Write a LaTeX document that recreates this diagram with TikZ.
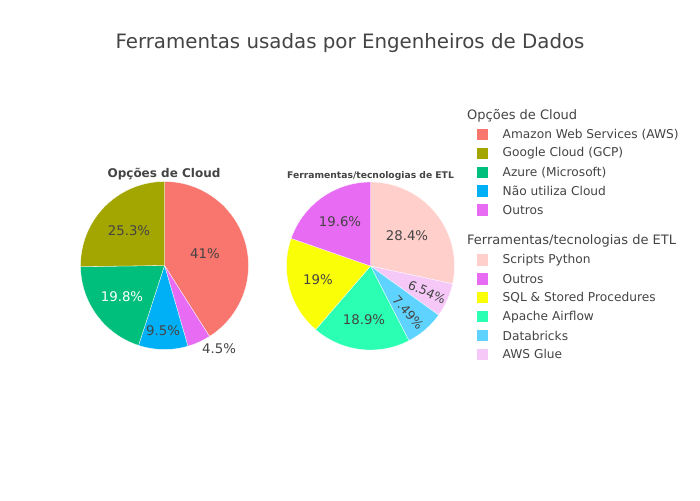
\documentclass[tikz,border=0pt]{standalone}
\usepackage{fontspec}
\setmainfont{DejaVu Sans}
\definecolor{txt}{HTML}{444444}
\definecolor{caws}{HTML}{F8766D}
\definecolor{cgcp}{HTML}{A3A500}
\definecolor{caz}{HTML}{00BF7D}
\definecolor{cnao}{HTML}{00B0F6}
\definecolor{cout}{HTML}{E76BF3}
\definecolor{cpy}{HTML}{FFCFCB}
\definecolor{csql}{HTML}{FAFF07}
\definecolor{cair}{HTML}{2BFFB3}
\definecolor{cdb}{HTML}{5FD3FF}
\definecolor{cglue}{HTML}{F5C8F8}
\newcommand\myslice[4]{\fill[#4,draw=white,line width=0.3pt] (#1) -- ++({-90+3.6*#2}:84) arc[start angle={-90+3.6*#2}, end angle={-90+3.6*#3}, radius=84] -- cycle;}
\tikzset{
  lbl/.style={text=txt,font=\fontsize{13.3}{15}\selectfont,inner sep=0pt},
  leg/.style={text=txt,font=\fontsize{12.2}{14}\selectfont,anchor=west,inner sep=0pt},
  leghead/.style={text=txt,font=\fontsize{13}{15}\selectfont,anchor=west,inner sep=0pt},
  sw/.style={minimum width=11.5pt,minimum height=11.5pt,inner sep=0pt,anchor=west}
}
\begin{document}
\begin{tikzpicture}[x=1pt,y=-1pt]
\useasboundingbox[fill=white] (0,0) rectangle (700,500);
\node[text=txt,font=\fontsize{19.8}{22}\selectfont,anchor=base,inner sep=0pt] (title) at (350,49) {Ferramentas usadas por Engenheiros de Dados};
% left pie
\coordinate (L) at (164.5,265.5);
\myslice{L}{0}{41}{caws}
\myslice{L}{41}{45.5}{cout}
\myslice{L}{45.5}{55}{cnao}
\myslice{L}{55}{74.8}{caz}
\myslice{L}{74.8}{100}{cgcp}
\node[text=txt,font=\bfseries\fontsize{12}{14}\selectfont] (lt) at (164,174) {Opções de Cloud};
\node[lbl] (l1) at (205,254) {41\%};
\node[lbl] (l2) at (129,231) {25.3\%};
\node[lbl,text=white] (l3) at (122,297) {19.8\%};
\node[lbl] (l4) at (163,331) {9.5\%};
\node[lbl] (l5) at (219,349) {4.5\%};
% right pie
\coordinate (R) at (370.5,266);
\myslice{R}{0}{28.4}{cpy}
\myslice{R}{28.4}{34.94}{cglue}
\myslice{R}{34.94}{42.43}{cdb}
\myslice{R}{42.43}{61.33}{cair}
\myslice{R}{61.33}{80.33}{csql}
\myslice{R}{80.33}{100}{cout}
\node[text=txt,font=\bfseries\fontsize{9.2}{11}\selectfont] (rt) at (370.5,176) {Ferramentas/tecnologias de ETL};
\node[lbl] (r1) at (407,236) {28.4\%};
\node[lbl] (r2) at (340,222) {19.6\%};
\node[lbl] (r3) at (318,280) {19\%};
\node[lbl] (r4) at (364,320) {18.9\%};
\node[lbl,font=\fontsize{12.5}{14}\selectfont,rotate=-24] (r5) at (427,292) {6.54\%};
\node[lbl,font=\fontsize{12.5}{14}\selectfont,rotate=-49] (r6) at (408,312) {7.49\%};
% legend
\node[leghead] (h1) at (467,116) {Opções de Cloud};
\node[sw,fill=caws] (s1) at (476.5,134.3) {}; \node[leg] (t1) at (502.5,134.3) {Amazon Web Services (AWS)};
\node[sw,fill=cgcp] (s2) at (476.5,153.3) {}; \node[leg] (t2) at (502.5,153.3) {Google Cloud (GCP)};
\node[sw,fill=caz] (s3) at (476.5,172.3) {}; \node[leg] (t3) at (502.5,172.3) {Azure (Microsoft)};
\node[sw,fill=cnao] (s4) at (476.5,191) {}; \node[leg] (t4) at (502.5,191) {Não utiliza Cloud};
\node[sw,fill=cout] (s5) at (476.5,210) {}; \node[leg] (t5) at (502.5,210) {Outros};
\node[leghead] (h2) at (467,241) {Ferramentas/tecnologias de ETL};
\node[sw,fill=cpy] (s6) at (476.5,260) {}; \node[leg] (t6) at (502.5,260) {Scripts Python};
\node[sw,fill=cout] (s7) at (476.5,279) {}; \node[leg] (t7) at (502.5,279) {Outros};
\node[sw,fill=csql] (s8) at (476.5,297.7) {}; \node[leg] (t8) at (502.5,297.7) {SQL \& Stored Procedures};
\node[sw,fill=cair] (s9) at (476.5,316.7) {}; \node[leg] (t9) at (502.5,316.7) {Apache Airflow};
\node[sw,fill=cdb] (s10) at (476.5,335.7) {}; \node[leg] (t10) at (502.5,335.7) {Databricks};
\node[sw,fill=cglue] (s11) at (476.5,354.3) {}; \node[leg] (t11) at (502.5,354.3) {AWS Glue};
\end{tikzpicture}
\end{document}
